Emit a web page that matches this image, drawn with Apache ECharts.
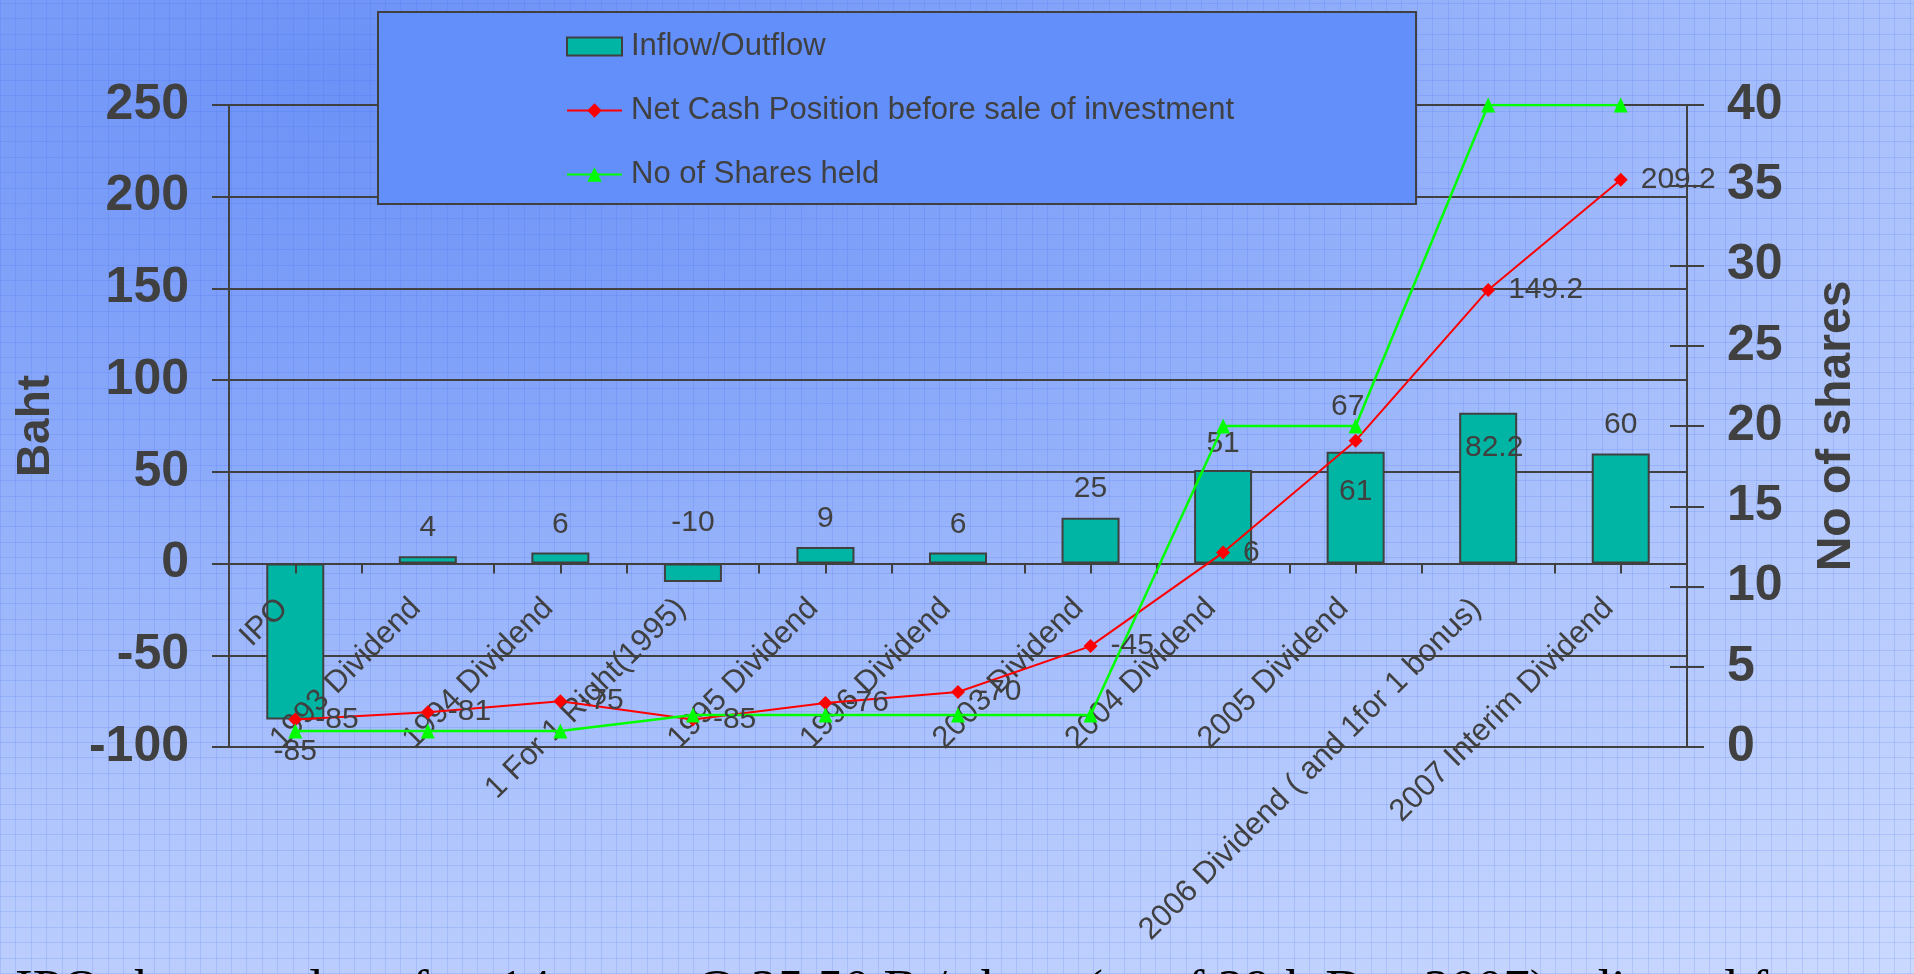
<!DOCTYPE html>
<html>
<head>
<meta charset="utf-8">
<title>Inflow / Outflow and Net Cash Position</title>
<script src="https://cdn.jsdelivr.net/npm/echarts@6/dist/echarts.min.js"></script>
<style>
  html, body { margin: 0; padding: 0; width: 1914px; height: 974px; overflow: hidden; }
  body {
    background-color: #a9c0fb;
    background-image:
      repeating-linear-gradient(0deg, rgba(50, 95, 235, 0.15) 0px, rgba(50, 95, 235, 0.15) 1px, transparent 1px, transparent 15.4px),
      repeating-linear-gradient(90deg, rgba(50, 95, 235, 0.15) 0px, rgba(50, 95, 235, 0.15) 1px, transparent 1px, transparent 15.4px),
      radial-gradient(ellipse 130% 120% at 22% 8%, #6a90f7 0%, #86a6f9 30%, #aec4fc 62%, #cddbff 100%);
  }
  #chart { width: 1914px; height: 974px; }
</style>
</head>
<body>
<div id="chart"></div>
<script>
// ---- data ----
const categories = [
  'IPO',
  '1993 Dividend',
  '1994 Dividend',
  '1 For 1 Right(1995)',
  '1995 Dividend',
  '1996 Dividend',
  '2003 Dividend',
  '2004 Dividend',
  '2005 Dividend',
  '2006 Dividend ( and 1for 1 bonus)',
  '2007 Interim Dividend'
];
const inflowOutflow = [-85, 4, 6, -10, 9, 6, 25, 51, 61, 82.2, 60];
const netCash = [-85, -81, -75, -85, -76, -70, -45, 6, 67, 149.2, 209.2];
const sharesHeld = [1, 1, 1, 2, 2, 2, 2, 20, 20, 40, 40];

const seriesNames = ['Inflow/Outflow', 'Net Cash Position before sale of investment', 'No of Shares held'];
const bahtAxis = { name: 'Baht', min: -100, max: 250, step: 50 };
const sharesAxis = { name: 'No of shares', min: 0, max: 40, step: 5 };
const footnote = 'IPO shares value after 14 years @ 25.50 B / share (as of 29th Dec 2007) adjusted for';

// ---- label placement (style only) ----
const barLabelPlacement = [
  { position: 'bottom', distance: 17 },
  { position: 'top', distance: 13 },
  { position: 'top', distance: 13 },
  { position: 'top', distance: 26 },
  { position: 'top', distance: 13 },
  { position: 'top', distance: 13 },
  { position: 'top', distance: 14 },
  { position: 'top', distance: 11 },
  { position: 'insideTop', distance: 25 },
  { position: 'insideTop', distance: 20, offset: [6, 0] },
  { position: 'top', distance: 14 }
];
const cashLabelPlacement = [
  null, null, null, null, null, null, null, null,
  { position: 'top', distance: 12, offset: [-8, 0] },
  null, null
];

// ---- styles ----
const SANS = '"Liberation Sans", Arial, sans-serif';
const INK = '#404040';
const BAR = '#00b5a4';

const chart = echarts.init(document.getElementById('chart'));

const valueLabel = {
  show: true,
  color: INK,
  fontSize: 30,
  fontFamily: SANS
};

const categoryAxisBase = {
  type: 'category',
  position: 'bottom',
  data: categories,
  boundaryGap: true,
  offset: 0,
  splitLine: { show: false },
  z: 3
};

chart.setOption({
  backgroundColor: 'transparent',
  animation: false,
  textStyle: { fontFamily: SANS },
  grid: {
    left: 229, right: 227, top: 105, bottom: 227,
    outerBoundsMode: 'none'
  },
  legend: {
    orient: 'vertical',
    left: 566,
    top: 31,
    itemWidth: 55,
    itemHeight: 18,
    itemGap: 33,
    padding: 0,
    textStyle: { fontSize: 31, color: INK, fontFamily: SANS, padding: [0, 0, 0, 4] },
    data: [
      { name: seriesNames[0], icon: 'rect', itemStyle: { borderColor: INK, borderWidth: 2 } },
      { name: seriesNames[1] },
      { name: seriesNames[2] }
    ],
    z: 5
  },
  graphic: [
    {
      type: 'rect',
      shape: { x: 378, y: 12, width: 1038, height: 192 },
      style: { fill: '#638ffa', stroke: INK, lineWidth: 2 },
      z: 1
    },
    {
      type: 'text',
      x: 15,
      y: 992,
      style: {
        text: footnote,
        fontSize: 53,
        fontFamily: '"Liberation Serif", "Times New Roman", serif',
        fill: '#000000',
        verticalAlign: 'middle'
      },
      z: 1
    }
  ],
  xAxis: [
    Object.assign({}, categoryAxisBase, {
      axisLine: { show: true, onZero: false, lineStyle: { color: INK, width: 2 } },
      axisTick: { show: true, length: 10, lineStyle: { color: INK, width: 2 } },
      axisLabel: {
        interval: 0,
        rotate: 45,
        margin: 28,
        padding: [0, 17, 0, 0],
        fontSize: 31,
        color: INK,
        fontFamily: SANS
      }
    }),
    Object.assign({}, categoryAxisBase, {
      // ticks under each category centre
      axisLine: { show: false, onZero: false },
      axisTick: { show: true, alignWithLabel: true, length: 10, lineStyle: { color: INK, width: 2 } },
      axisLabel: { show: false }
    })
  ],
  yAxis: [
    {
      type: 'value',
      position: 'left',
      min: bahtAxis.min,
      max: bahtAxis.max,
      interval: bahtAxis.step,
      name: bahtAxis.name,
      nameLocation: 'middle',
      nameRotate: 90,
      nameGap: 170,
      nameMoveOverlap: false,
      nameTextStyle: { fontSize: 46, fontWeight: 'bold', color: INK, fontFamily: SANS },
      axisLine: { show: true, lineStyle: { color: INK, width: 2 } },
      axisTick: { show: true, inside: false, length: 17, lineStyle: { color: INK, width: 2 } },
      axisLabel: { margin: 40, fontSize: 50, fontWeight: 'bold', color: INK, fontFamily: SANS },
      splitLine: { show: true, lineStyle: { color: INK, width: 2 } }
    },
    {
      type: 'value',
      position: 'right',
      min: sharesAxis.min,
      max: sharesAxis.max,
      interval: sharesAxis.step,
      name: sharesAxis.name,
      nameLocation: 'middle',
      nameRotate: 90,
      nameGap: 126,
      nameMoveOverlap: false,
      nameTextStyle: { fontSize: 48, fontWeight: 'bold', color: INK, fontFamily: SANS },
      axisLine: { show: true, lineStyle: { color: INK, width: 2 } },
      axisTick: { show: true, inside: false, length: 17, lineStyle: { color: INK, width: 2 } },
      axisLabel: { margin: 40, fontSize: 50, fontWeight: 'bold', color: INK, fontFamily: SANS },
      splitLine: { show: false }
    },
    {
      // inner half of the crossing ticks on the shares axis
      type: 'value',
      position: 'right',
      min: sharesAxis.min,
      max: sharesAxis.max,
      interval: sharesAxis.step,
      axisLine: { show: false },
      axisTick: { show: true, inside: true, length: 17, lineStyle: { color: INK, width: 2 } },
      axisLabel: { show: false },
      splitLine: { show: false }
    }
  ],
  series: [
    {
      name: seriesNames[0],
      type: 'bar',
      xAxisIndex: 0,
      yAxisIndex: 0,
      barWidth: 58,
      itemStyle: { color: BAR, borderColor: INK, borderWidth: 2 },
      label: valueLabel,
      data: inflowOutflow.map((v, i) => ({ value: v, label: barLabelPlacement[i] }))
    },
    {
      name: seriesNames[1],
      type: 'line',
      xAxisIndex: 0,
      yAxisIndex: 0,
      symbol: 'diamond',
      symbolSize: 14,
      itemStyle: { color: '#ff0000' },
      lineStyle: { color: '#ff0000', width: 2 },
      label: Object.assign({}, valueLabel, { position: 'right', distance: 13 }),
      data: netCash.map((v, i) => (cashLabelPlacement[i] ? { value: v, label: cashLabelPlacement[i] } : v)),
      z: 3
    },
    {
      name: seriesNames[2],
      type: 'line',
      xAxisIndex: 0,
      yAxisIndex: 1,
      symbol: 'triangle',
      symbolSize: [14, 15],
      itemStyle: { color: '#00ff00' },
      lineStyle: { color: '#00ff00', width: 2.5 },
      label: { show: false },
      data: sharesHeld,
      z: 3
    }
  ]
});

// Lift the category axes (line, ticks and labels) onto the zero line of the Baht axis.
const zeroY = chart.convertToPixel({ yAxisIndex: 0 }, 0);
const floorY = chart.convertToPixel({ yAxisIndex: 0 }, bahtAxis.min);
chart.setOption({ xAxis: [{ offset: zeroY - floorY }, { offset: zeroY - floorY }] });
</script>
</body>
</html>
